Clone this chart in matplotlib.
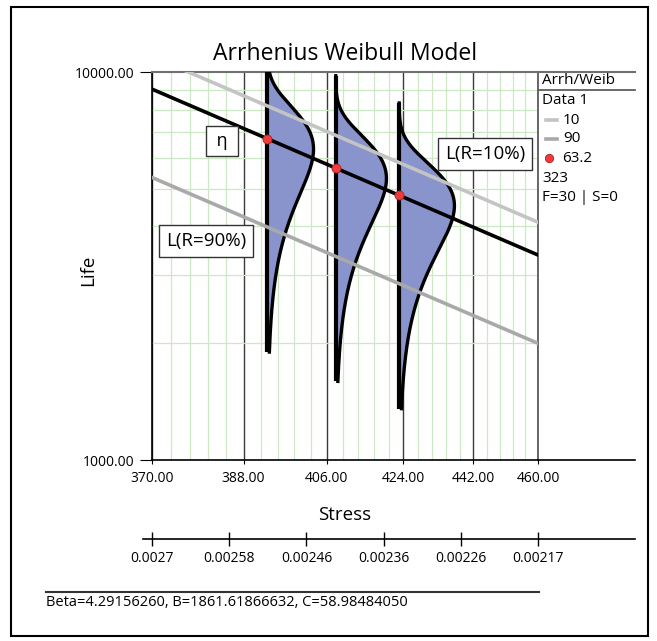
import numpy as np
import matplotlib
matplotlib.use("Agg")
import matplotlib.pyplot as plt
from matplotlib.lines import Line2D
from matplotlib.ticker import FixedLocator, LogLocator, NullFormatter

plt.rcParams['font.family'] = ['Open Sans', 'DejaVu Sans']

# model parameters (from footnote)
beta = 4.29156260
B = 1861.61866632
C = 58.98484050

stress_levels = [393, 408, 423]
stress_ticks = [370, 388, 406, 424, 442, 460]
stress_labels = ['370.00', '388.00', '406.00', '424.00', '442.00', '460.00']
inv_labels = ['0.0027', '0.00258', '0.00246', '0.00236', '0.00226', '0.00217']
life_ticks = [1000, 10000]
life_labels = ['1000.00', '10000.00']
rel_upper = 0.10
rel_lower = 0.90

W, H = 657, 641


def px(x, y):
    return x / W, 1 - y / H


def eta(v):
    return C * np.exp(B / v)


fig = plt.figure(figsize=(W / 100, H / 100), dpi=100)
ax = fig.add_axes([152 / W, 1 - 460 / H, (538 - 152) / W, (460 - 72) / H])
ax.set_xscale('function', functions=(lambda v: -1 / v, lambda u: -1 / u))
ax.set_yscale('log')
ax.set_xlim(370, 460)
ax.set_ylim(1000, 10000)

# grid
ax.xaxis.set_major_locator(FixedLocator(stress_ticks))
ax.xaxis.set_minor_locator(FixedLocator(np.arange(370, 460.01, 3.6)))
ax.yaxis.set_major_locator(FixedLocator(life_ticks))
ax.yaxis.set_minor_locator(LogLocator(base=10, subs=np.arange(2, 10)))
ax.xaxis.set_minor_formatter(NullFormatter())
ax.yaxis.set_minor_formatter(NullFormatter())
ax.set_xticklabels(stress_labels)
ax.set_yticklabels(life_labels)
ax.grid(which='minor', color='#cce8c4', lw=0.9, zorder=0)
ax.grid(which='major', axis='x', color='#3a3a3a', lw=1.0, zorder=0.5)
ax.tick_params(which='minor', length=0)
ax.tick_params(axis='x', which='major', length=3, direction='out', labelsize=10, pad=5)
ax.tick_params(axis='y', which='major', length=9, direction='out', labelsize=10, pad=4)
ax.set_axisbelow(True)

for s in ['left', 'bottom']:
    ax.spines[s].set_color('black')
    ax.spines[s].set_linewidth(1.2)
ax.spines['top'].set_color('#707070')
ax.spines['right'].set_color('#505050')
ax.spines['top'].set_linewidth(1.5)
ax.spines['right'].set_linewidth(1.2)

# pdf curves along each stress level
pdf_scale = 10.0 / (beta / eta(stress_levels[0]) * 0.379)
for v in stress_levels:
    e = eta(v)
    t = np.linspace(0.282 * e, 1.73 * e, 300)
    f = beta / e * (t / e) ** (beta - 1) * np.exp(-(t / e) ** beta)
    xr = v + pdf_scale * f
    ax.fill_betweenx(t, v, xr, color='#8993cc', zorder=2, lw=0)
    ax.plot(xr, t, color='black', lw=2.4, zorder=3)
    ax.plot([v, v], [t[0], t[-1]], color='black', lw=3, zorder=3,
            solid_capstyle='butt')

# life lines
vv = np.linspace(370, 460, 200)
f_up = (-np.log(rel_upper)) ** (1 / beta)
f_lo = (-np.log(rel_lower)) ** (1 / beta)
ax.plot(vv, eta(vv) * f_up, color='#c4c4c4', lw=2.6, zorder=4)
ax.plot(vv, eta(vv) * f_lo, color='#a9a9a9', lw=2.6, zorder=4)
ax.plot(vv, eta(vv), color='black', lw=2.6, zorder=4)
ax.plot(stress_levels, eta(np.array(stress_levels, float)), 'o', ms=6.5,
        mfc='#ee3b3b', mec='#b02020', mew=0.6, zorder=5)

box = dict(boxstyle='square,pad=0.35', fc='white', ec='#333333', lw=1.0)
ax.text((222 - 152) / 386, (460 - 141) / 388, ' η ', transform=ax.transAxes,
        ha='center', va='center', fontsize=13, bbox=box, zorder=6)
ax.text((485 - 152) / 386, (460 - 154) / 388, 'L(R=10%)', transform=ax.transAxes,
        ha='center', va='center', fontsize=13.5, bbox=box, zorder=6)
ax.text((206 - 152) / 386, (460 - 241) / 388, 'L(R=90%)', transform=ax.transAxes,
        ha='center', va='center', fontsize=13.5, bbox=box, zorder=6)

ax.set_title('Arrhenius Weibull Model', fontsize=16.5, pad=9)
ax.set_xlabel('Stress', fontsize=13.5, labelpad=14)
ax.set_ylabel('Life', fontsize=13.5)
ax.yaxis.set_label_coords((97 - 152) / 386, 0.49)

# secondary 1/T axis
sec = ax.secondary_xaxis(-(539 - 460) / 388, functions=(lambda v: 1 / v, lambda u: 1 / u))
sec.set_xticks(1 / np.array(stress_ticks, float))
sec.set_xticklabels(inv_labels)
sec.tick_params(length=10, direction='inout', labelsize=10, pad=4, width=1)
sec.spines['bottom'].set_visible(False)
sec.xaxis.set_minor_locator(FixedLocator([]))

# extended lines, legend block, footnote, frame
def hline(x0, x1, y, color='black', lw=1.2):
    fig.add_artist(Line2D([x0 / W, x1 / W], [1 - y / H, 1 - y / H], color=color, lw=lw))

hline(538, 635, 72, color='#707070', lw=1.5)
hline(538, 635, 460)
hline(143, 635, 539)
hline(539, 635, 90, color='#505050')
hline(46, 539, 592, color='#333333', lw=1.5)

fs_leg = 11
fig.text(*px(542, 80), 'Arrh/Weib', fontsize=fs_leg, va='center')
fig.text(*px(542, 101), 'Data 1', fontsize=fs_leg, va='center')
hline(546, 557, 120, color='#c4c4c4', lw=2.6)
fig.text(*px(563, 120), '10', fontsize=fs_leg, va='center')
hline(546, 557, 139, color='#a9a9a9', lw=2.6)
fig.text(*px(563, 139), '90', fontsize=fs_leg, va='center')
fig.add_artist(Line2D([549 / W], [1 - 158 / H], marker='o', ms=6, mfc='#ee3b3b',
                      mec='#b02020', mew=0.6, ls='none'))
fig.text(*px(562, 158), '63.2', fontsize=fs_leg, va='center')
fig.text(*px(542, 178), '323', fontsize=fs_leg, va='center')
fig.text(*px(542, 197), 'F=30 | S=0', fontsize=fs_leg, va='center')

fig.text(*px(46, 603), 'Beta=4.29156260, B=1861.61866632, C=58.98484050',
         fontsize=10.5, va='center')

fig.add_artist(plt.Rectangle((11 / W, 1 - 636 / H), (648 - 11) / W, (636 - 7) / H,
                             transform=fig.transFigure, fill=False, ec='black', lw=1.5))

fig.savefig('out.png', dpi=100)
